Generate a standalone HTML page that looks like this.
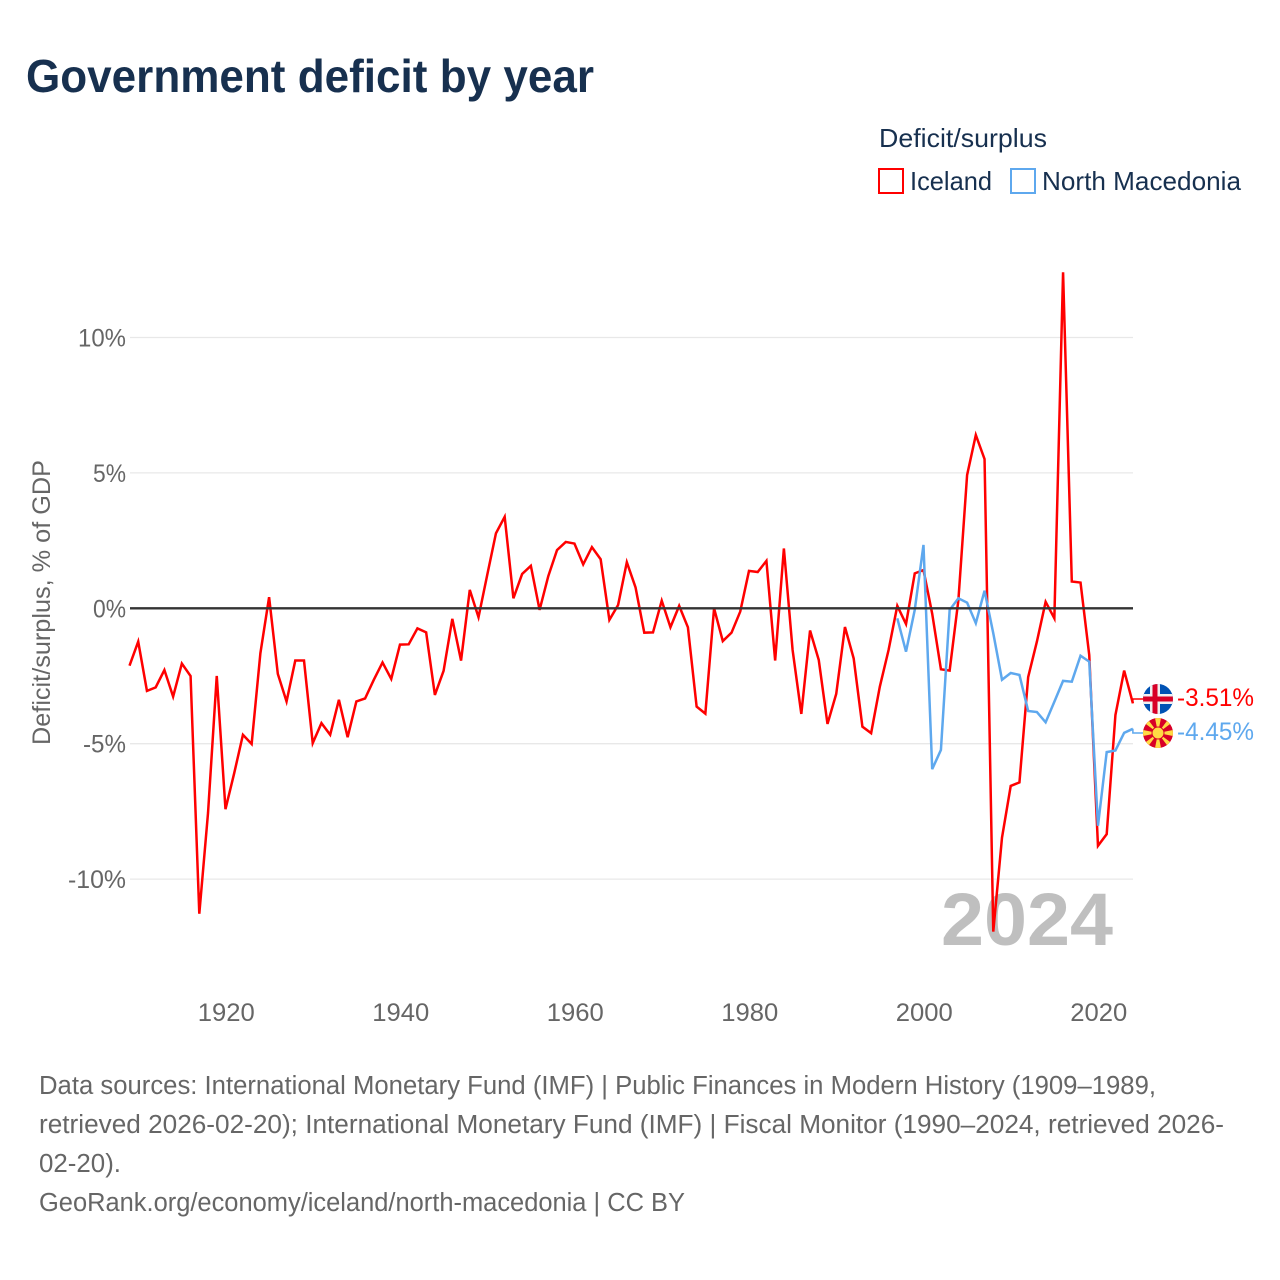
<!DOCTYPE html>
<html lang="en">
<head>
<meta charset="utf-8">
<title>Government deficit by year</title>
<style>
html,body{margin:0;padding:0;background:#fff;width:1280px;height:1280px;overflow:hidden}
svg{display:block}
text{font-family:"Liberation Sans",sans-serif}
</style>
</head>
<body>
<svg id="chart" xmlns="http://www.w3.org/2000/svg" width="1280" height="1280" viewBox="0 0 1280 1280">
  <rect width="1280" height="1280" fill="#fff"/>
  <text x="26" y="92" font-size="46" font-weight="700" fill="#17304f" textLength="568" lengthAdjust="spacingAndGlyphs">Government deficit by year</text>
  <g>
    <text x="879" y="147" font-size="26" fill="#17304f" textLength="168" lengthAdjust="spacingAndGlyphs">Deficit/surplus</text>
    <rect x="879" y="169" width="24" height="24" fill="#fff" stroke="#ff0000" stroke-width="2"/>
    <text x="910" y="190" font-size="26" fill="#17304f" textLength="82" lengthAdjust="spacingAndGlyphs">Iceland</text>
    <rect x="1011" y="169" width="24" height="24" fill="#fff" stroke="#5ea8ee" stroke-width="2"/>
    <text x="1042" y="190" font-size="26" fill="#17304f" textLength="199" lengthAdjust="spacingAndGlyphs">North Macedonia</text>
  </g>
  <text transform="translate(50,745) rotate(-90)" font-size="25" fill="#666" textLength="285" lengthAdjust="spacingAndGlyphs">Deficit/surplus, % of GDP</text>
  <g id="grid"></g>
  <g id="yticks"></g>
  <g id="xticks"></g>
  <text x="941" y="945" font-size="74" font-weight="700" fill="#bfbfbf" textLength="172" lengthAdjust="spacingAndGlyphs">2024</text>
  <g id="series"></g>
  <g id="zero"></g>
  <defs>
    <clipPath id="clip-is"><circle cx="1158" cy="699" r="15"/></clipPath>
    <clipPath id="clip-mk"><circle cx="1158" cy="733" r="15"/></clipPath>
  </defs>
  <g clip-path="url(#clip-is)">
    <rect x="1143" y="684" width="30" height="30" fill="#0052b4"/>
    <rect x="1143" y="694" width="30" height="10" fill="#f0f0f0"/>
    <rect x="1150" y="684" width="10" height="30" fill="#f0f0f0"/>
    <rect x="1143" y="696.5" width="30" height="5" fill="#d80027"/>
    <rect x="1152.5" y="684" width="5" height="30" fill="#d80027"/>
  </g>
  <g clip-path="url(#clip-mk)">
    <rect x="1143" y="718" width="30" height="30" fill="#d80027"/>
    <g fill="#ffda44">
      <polygon points="1158,733 1155,718 1161,718"/>
      <polygon points="1158,733 1155,748 1161,748"/>
      <polygon points="1158,733 1143,730 1143,736"/>
      <polygon points="1158,733 1173,730 1173,736"/>
      <polygon points="1158,733 1144.5,723 1148,719.5"/>
      <polygon points="1158,733 1171.5,723 1168,719.5"/>
      <polygon points="1158,733 1144.5,743 1148,746.5"/>
      <polygon points="1158,733 1171.5,743 1168,746.5"/>
      <circle cx="1158" cy="733" r="6" stroke="#d80027" stroke-width="1"/>
    </g>
  </g>
  <text x="1177" y="706" font-size="25" fill="#ff0000" textLength="77" lengthAdjust="spacingAndGlyphs">-3.51%</text>
  <text x="1177" y="740" font-size="25" fill="#5ea8ee" textLength="77" lengthAdjust="spacingAndGlyphs">-4.45%</text>
  <g font-size="25.5" fill="#666">
    <text x="39" y="1094" textLength="1117" lengthAdjust="spacingAndGlyphs">Data sources: International Monetary Fund (IMF) | Public Finances in Modern History (1909–1989,</text>
    <text x="39" y="1133" textLength="1185" lengthAdjust="spacingAndGlyphs">retrieved 2026-02-20); International Monetary Fund (IMF) | Fiscal Monitor (1990–2024, retrieved 2026-</text>
    <text x="39" y="1172" textLength="82" lengthAdjust="spacingAndGlyphs">02-20).</text>
    <text x="39" y="1211" textLength="646" lengthAdjust="spacingAndGlyphs">GeoRank.org/economy/iceland/north-macedonia | CC BY</text>
  </g>
</svg>
<script>
const startYearIceland = 1909;
const startYearMacedonia = 1997;
const iceland = [-2.12,-1.23,-3.05,-2.92,-2.28,-3.26,-2.04,-2.50,-11.28,-7.56,-2.50,-7.42,-6.09,-4.67,-5.01,-1.66,0.41,-2.42,-3.44,-1.93,-1.93,-4.98,-4.24,-4.67,-3.38,-4.76,-3.44,-3.33,-2.64,-2.00,-2.61,-1.34,-1.33,-0.74,-0.89,-3.20,-2.31,-0.39,-1.93,0.68,-0.33,1.23,2.77,3.38,0.37,1.27,1.57,-0.06,1.19,2.15,2.45,2.39,1.62,2.26,1.81,-0.43,0.12,1.70,0.77,-0.90,-0.89,0.28,-0.70,0.09,-0.70,-3.63,-3.89,0.00,-1.21,-0.90,-0.12,1.38,1.34,1.75,-1.93,2.21,-1.54,-3.90,-0.82,-1.91,-4.27,-3.16,-0.69,-1.85,-4.37,-4.61,-2.89,-1.54,0.09,-0.58,1.29,1.41,-0.20,-2.25,-2.30,0.30,4.92,6.40,5.51,-11.94,-8.47,-6.56,-6.43,-2.54,-1.23,0.24,-0.37,12.41,0.99,0.95,-1.73,-8.77,-8.34,-3.94,-2.30,-3.51];
const macedonia = [-0.37,-1.60,-0.06,2.34,-5.94,-5.23,-0.06,0.37,0.21,-0.55,0.65,-0.92,-2.64,-2.39,-2.46,-3.79,-3.83,-4.21,-3.45,-2.68,-2.71,-1.75,-1.97,-8.03,-5.31,-5.25,-4.60,-4.45];
const yTickValues = [10,5,-5,-10];
const yTickLabels = ["10%","5%","0%","-5%","-10%"];
const yTickLabelValues = [10,5,0,-5,-10];
const xTickYears = [1920,1940,1960,1980,2000,2020];

const NS = "http://www.w3.org/2000/svg";
const xOf = function (year) { return 129.5 + (year - 1909) * 8.725; };
const yOf = function (v) { return 608.3 - v * 27.08; };
const labelWidth = function (s) { return s.length === 2 ? 33 : s.length === 3 ? (s[0] === "-" ? 43 : 48) : 58; };

function make(tag, attrs, parent) {
  const el = document.createElementNS(NS, tag);
  Object.keys(attrs).forEach(function (k) { el.setAttribute(k, attrs[k]); });
  parent.appendChild(el);
  return el;
}

const grid = document.getElementById("grid");
yTickValues.forEach(function (v) {
  const line = make("line", {x1: 130, x2: 1133, y1: yOf(v), y2: yOf(v), stroke: "#e8e8e8", "stroke-width": 1.3}, grid);
  
  
});

const yticks = document.getElementById("yticks");
yTickLabels.forEach(function (label, i) {
  const w = labelWidth(label);
  const t = make("text", {x: 126 - w, y: yOf(yTickLabelValues[i]) + 9, "font-size": 25, fill: "#666", textLength: w, lengthAdjust: "spacingAndGlyphs"}, yticks);
  t.textContent = label;
  
  
});

const xticks = document.getElementById("xticks");
xTickYears.forEach(function (year) {
  const t = make("text", {x: xOf(year) - 27.7, y: 1021, "font-size": 25, fill: "#666", textLength: 57, lengthAdjust: "spacingAndGlyphs"}, xticks);
  t.textContent = String(year);
  
  
});

function linePoints(values, start) {
  return values.map(function (v, i) { return xOf(start + i).toFixed(2) + "," + yOf(v).toFixed(2); }).join(" ");
}
const series = document.getElementById("series");

const redLine = make("polyline", {points: linePoints(iceland, startYearIceland), fill: "none", stroke: "#ff0000", "stroke-width": 2.5, "stroke-linejoin": "miter"}, series);



const blueLine = make("polyline", {points: linePoints(macedonia, startYearMacedonia), fill: "none", stroke: "#5ea8ee", "stroke-width": 2.5, "stroke-linejoin": "miter"}, series);



const lastX = xOf(2024);
const redLeader = make("polyline", {points: lastX + "," + yOf(iceland[iceland.length - 1]) + " " + lastX + ",699 1143,699", fill: "none", stroke: "#ff0000", "stroke-width": 1.5}, series);



const blueLeader = make("polyline", {points: lastX + "," + yOf(macedonia[macedonia.length - 1]) + " " + lastX + ",733 1143,733", fill: "none", stroke: "#5ea8ee", "stroke-width": 1.5}, series);



const zero = document.getElementById("zero");
const zeroLine = make("line", {x1: 130, x2: 1133, y1: yOf(0), y2: yOf(0), stroke: "#333", "stroke-width": 2.4}, zero);


</script>
</body>
</html>
